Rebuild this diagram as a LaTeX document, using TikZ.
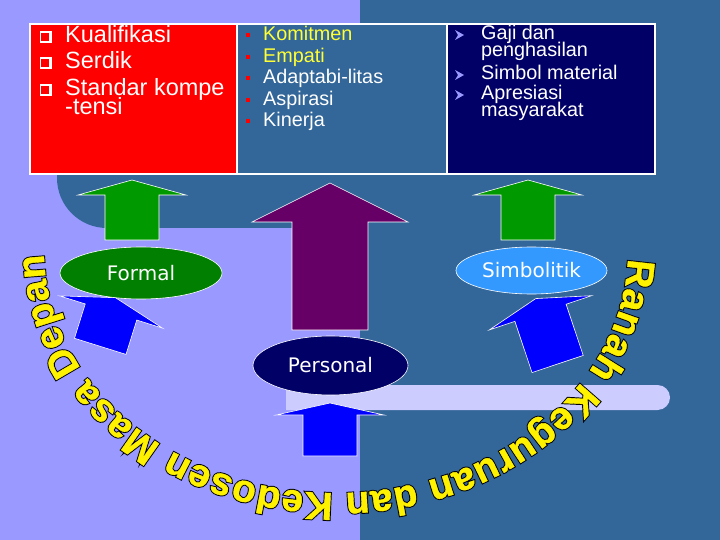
\documentclass[tikz,border=0pt]{standalone}
\usepackage{fontspec}
\setmainfont{Liberation Sans}
\newfontfamily\ovalfont{DejaVu Sans}
\newfontfamily\arctop{Liberation Sans}[BoldFeatures={FakeBold=1}]
\newfontfamily\arcline{Liberation Sans}[BoldFeatures={FakeBold=6}]
\usetikzlibrary{shapes.geometric,decorations.text}

\definecolor{bgleft}{HTML}{9999FF}
\definecolor{bgright}{HTML}{336699}
\definecolor{barlav}{HTML}{CCCCFF}
\definecolor{boxred}{HTML}{FF0000}
\definecolor{navybox}{HTML}{000066}
\definecolor{armgreen}{HTML}{009900}
\definecolor{armpurple}{HTML}{660066}
\definecolor{armblue}{HTML}{0000FF}
\definecolor{ovalgreen}{HTML}{007F00}
\definecolor{ovalsky}{HTML}{3399FF}
\definecolor{txtyellow}{HTML}{FFFF33}

\tikzset{
	boxframe/.style={draw=white, line width=1.5pt},
	bigtext/.style={anchor=base west, inner sep=0pt, text=white, font=\fontsize{23.5}{26}\selectfont},
	smalltext/.style={anchor=base west, inner sep=0pt, text=white, font=\fontsize{19.8}{22}\selectfont},
	ovalnode/.style={ellipse, draw=white, line width=0.6pt, inner sep=0pt, text=white, font=\ovalfont\fontsize{20}{24}\selectfont},
	pics/blockarrow/.style n args={5}{code={
		\filldraw[draw=white, line width=0.6pt, fill=#5]
			(-#1,0) -- (0,-#2) -- (#1,0) -- (#3,0) -- (#3,#4) -- (-#3,#4) -- (-#3,0) -- cycle;
	}},
}

\begin{document}
\begin{tikzpicture}[x=1pt, y=-1pt]
	\useasboundingbox (0,0) rectangle (720,540);
	
	%% BACKGROUND
	\fill[bgleft] (0,0) rectangle (360,540);
	\fill[bgright] (360,0) rectangle (720,540);
	% Rounded field under the red box
	\fill[bgright, rounded corners=50pt] (57,120) rectangle (470,228);
	% Light bar
	\fill[barlav] (286,385) -- (657.5,385) arc[start angle=-90, end angle=90, radius=12.5] -- (286,410) -- cycle;
	
	%% BOXES
	\draw[boxframe, fill=boxred] (30,24) rectangle (237,174);
	\draw[boxframe, fill=bgright] (237,24) rectangle (447,174);
	\draw[boxframe, fill=navybox] (447,24) rectangle (655,174);
	
	% Red box
	\foreach \y/\t in {43/Kualifikasi, 69/Serdik, 96/Standar kompe}
	{
		\fill[white] (39.5,\y-11.5) rectangle (51.5,\y+0.5);
		\fill[boxred] (41,\y-10) rectangle (49,\y-2);
		\node[bigtext] (red-\y) at (65,\y) {\t};
	}
	\node[bigtext] (red-115) at (65,115) {-tensi};
	
	% Middle box
	\foreach \y/\t/\c in {41/Komitmen/txtyellow, 62.5/Empati/txtyellow, 84/Adaptabi-litas/white, 105.5/Aspirasi/white, 127/Kinerja/white}
	{
		\fill[boxred] (246,\y-7.5) rectangle ++(4,4);
		\node[smalltext, text=\c] (mid-\y) at (263,\y) {\t};
	}
	
	% Navy box
	\foreach \y in {40, 80, 100}
	{
		\fill[bgleft] (455,\y-10) -- (464,\y-5) -- (455,\y) -- (458,\y-5) -- cycle;
	}
	\foreach \y/\t in {40/Gaji dan, 57/penghasilan, 80/Simbol material, 100/Apresiasi, 117/masyarakat}
	{
		\node[smalltext] (nav-\y) at (481,\y) {\t};
	}
	
	%% ARROWS
	\pic at (132,195) {blockarrow={54}{15}{27}{45}{armgreen}};
	\pic at (528,195) {blockarrow={54}{15}{27}{45}{armgreen}};
	\pic at (330,222) {blockarrow={78}{39}{38}{108}{armpurple}};
	\pic at (330,415) {blockarrow={54}{12}{27}{41}{armblue}};
	\pic[rotate=-17.4] at (111,312) {blockarrow={54}{15}{27}{36}{armblue}};
	\pic[rotate=18.5] at (540.5,312.8) {blockarrow={54}{15}{27}{54}{armblue}};
	
	%% OVALS
	\node[ovalnode, fill=ovalgreen, minimum width=162pt, minimum height=52pt] (formal) at (141,273) {Formal};
	\node[ovalnode, fill=ovalsky, minimum width=151pt, minimum height=47pt] (simbol) at (531.5,270.5) {Simbolitik};
	\node[ovalnode, fill=navybox, minimum width=155pt, minimum height=59pt] (personal) at (330.5,365.5) {Personal};
	
	%% ARC TEXT
	\coordinate (arcstart) at (627.8,258.5);
	\path[decorate, decoration={text along path, text align=fit to path,
		text={|\arcline\bfseries\fontsize{39}{39}\selectfont\color{black}|Ranah Keguruan dan Kedosen Masa Depan}}]
		(arcstart) arc[start angle=2, end angle=179, x radius=292, y radius=243];
	\path[decorate, decoration={text along path, text align=fit to path,
		text={|\arctop\bfseries\fontsize{39}{39}\selectfont\color{yellow}|Ranah Keguruan dan Kedosen Masa Depan}}]
		(arcstart) arc[start angle=2, end angle=179, x radius=292, y radius=243];
	
\end{tikzpicture}
\end{document}
